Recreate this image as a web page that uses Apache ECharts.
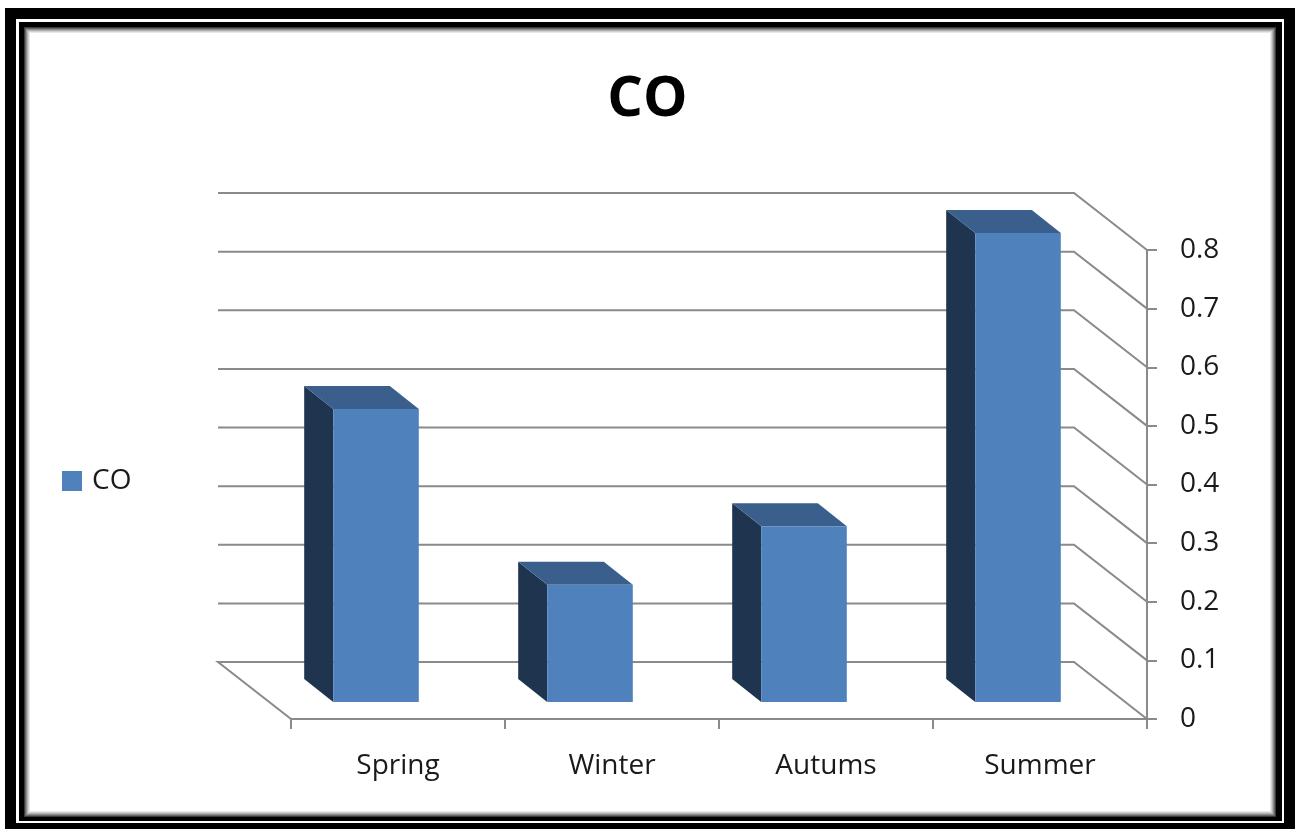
<!DOCTYPE html>
<html>
<head>
<meta charset="utf-8">
<script src="https://cdn.jsdelivr.net/npm/echarts@6/dist/echarts.min.js"></script>
<style>
  html, body { margin: 0; padding: 0; background: #fff; }
  #chart { width: 1295px; height: 829px; }
</style>
</head>
<body>
<div id="chart"></div>
<script>
// Seasonal CO levels
const chartTitle = 'CO';
const seriesName = 'CO';
const seasons = ['Spring', 'Winter', 'Autums', 'Summer'];
const coValues = [0.5, 0.2, 0.3, 0.8];
const yTicks = [0, 0.1, 0.2, 0.3, 0.4, 0.5, 0.6, 0.7, 0.8];

const FONT = '"Open Sans", "Noto Sans", sans-serif';
const GRID_COLOR = '#8a8a8a';

// pseudo-3D depth offsets (pixels)
const WALL_DX = -73, WALL_DY = -57;   // back wall relative to the front plane
const FACE_DX = -22, FACE_DY = -17;   // bar front face relative to the front plane
const BAR_DX = -29, BAR_DY = -23;     // bar depth
const BAR_RATIO = 0.4;                // bar width as share of the category band

const chart = echarts.init(document.getElementById('chart'), null, { renderer: 'canvas' });

// double black frame with an inner soft shadow
const frame = [
  { type: 'rect', shape: { x: 5, y: 8, width: 1290, height: 821 }, style: { fill: '#000' }, silent: true, z: -10 },
  { type: 'rect', shape: { x: 16, y: 19, width: 1268, height: 804 }, style: { fill: '#fff' }, silent: true, z: -9 },
  { type: 'rect', shape: { x: 19, y: 22, width: 1263, height: 799 }, style: { fill: '#000' }, silent: true, z: -8 }
];
const shadeSteps = ['#3a3a3a', '#666', '#8c8c8c', '#b0b0b0', '#d0d0d0', '#e8e8e8', '#f6f6f6'];
shadeSteps.forEach(function (c, i) {
  frame.push({
    type: 'rect',
    shape: { x: 24 + i, y: 27 + i, width: 1252 - 2 * i, height: 790 - 2 * i },
    style: { fill: i === shadeSteps.length - 1 ? '#fff' : c },
    silent: true, z: -7 + i
  });
});

const option = {
  animation: false,
  backgroundColor: '#fff',
  graphic: frame,
  title: {
    text: chartTitle,
    left: 'center',
    top: 67,
    textStyle: { fontFamily: FONT, fontWeight: 'bold', fontSize: 56, color: '#000' }
  },
  legend: {
    data: [seriesName],
    orient: 'vertical',
    left: 57,
    top: 462,
    icon: 'rect',
    itemWidth: 20,
    itemHeight: 20,
    textStyle: { fontFamily: FONT, fontSize: 28, color: '#1a1a1a', padding: [0, 0, 0, 5] }
  },
  grid: { left: 291, right: 148, top: 250, bottom: 110 },
  xAxis: {
    type: 'category',
    data: seasons,
    boundaryGap: true,
    axisLine: { show: true, lineStyle: { color: GRID_COLOR, width: 2 } },
    axisTick: { show: true, length: 10, lineStyle: { color: GRID_COLOR, width: 2 } },
    axisLabel: { fontFamily: FONT, fontSize: 28, color: '#1a1a1a', margin: 33 },
    splitLine: { show: false }
  },
  yAxis: {
    type: 'value',
    position: 'right',
    min: yTicks[0],
    max: yTicks[yTicks.length - 1],
    interval: 0.1,
    axisLine: { show: true, lineStyle: { color: GRID_COLOR, width: 2 } },
    axisTick: { show: true, length: 10, lineStyle: { color: GRID_COLOR, width: 2 } },
    axisLabel: {
      fontFamily: FONT, fontSize: 28, color: '#1a1a1a', margin: 33,
      formatter: function (v) { return String(Math.round(v * 10) / 10); }
    },
    splitLine: { show: false }
  },
  series: [
    {
      // back wall gridlines, floor edge and the slanted links to the value axis
      name: 'wall',
      type: 'custom',
      silent: true,
      z: 1,
      data: yTicks.map(function (v) { return [0, v]; }),
      renderItem: function (params, api) {
        const cs = params.coordSys;
        const v = api.value(1);
        const y = api.coord([0, v])[1];
        const left = cs.x, right = cs.x + cs.width;
        const pts = [];
        if (v === 0) pts.push([left, y]);
        pts.push([left + WALL_DX, y + WALL_DY]);
        pts.push([right + WALL_DX, y + WALL_DY]);
        pts.push([right, y]);
        return {
          type: 'polyline',
          shape: { points: pts },
          style: { stroke: GRID_COLOR, lineWidth: 2, fill: null }
        };
      }
    },
    {
      name: seriesName,
      type: 'custom',
      z: 3,
      itemStyle: { color: '#4F81BD' },
      data: coValues.map(function (v, i) { return [i, v]; }),
      renderItem: function (params, api) {
        const i = api.value(0);
        const v = api.value(1);
        const base = api.coord([i, 0]);
        const top = api.coord([i, v]);
        const band = api.size([1, 0])[0];
        const w = band * BAR_RATIO;
        const x0 = base[0] + FACE_DX - w / 2;
        const x1 = x0 + w;
        const yb = base[1] + FACE_DY;
        const yt = top[1] + FACE_DY;
        return {
          type: 'group',
          children: [
            {
              type: 'polygon',
              shape: { points: [[x0, yt], [x0, yb], [x0 + BAR_DX, yb + BAR_DY], [x0 + BAR_DX, yt + BAR_DY]] },
              style: { fill: '#1F344F' }
            },
            {
              type: 'polygon',
              shape: { points: [[x0, yt], [x1, yt], [x1 + BAR_DX, yt + BAR_DY], [x0 + BAR_DX, yt + BAR_DY]] },
              style: { fill: '#3B5F8D' }
            },
            {
              type: 'rect',
              shape: { x: x0, y: yt, width: w, height: yb - yt },
              style: { fill: '#4F81BD' }
            }
          ]
        };
      }
    }
  ]
};

chart.setOption(option);
</script>
</body>
</html>
